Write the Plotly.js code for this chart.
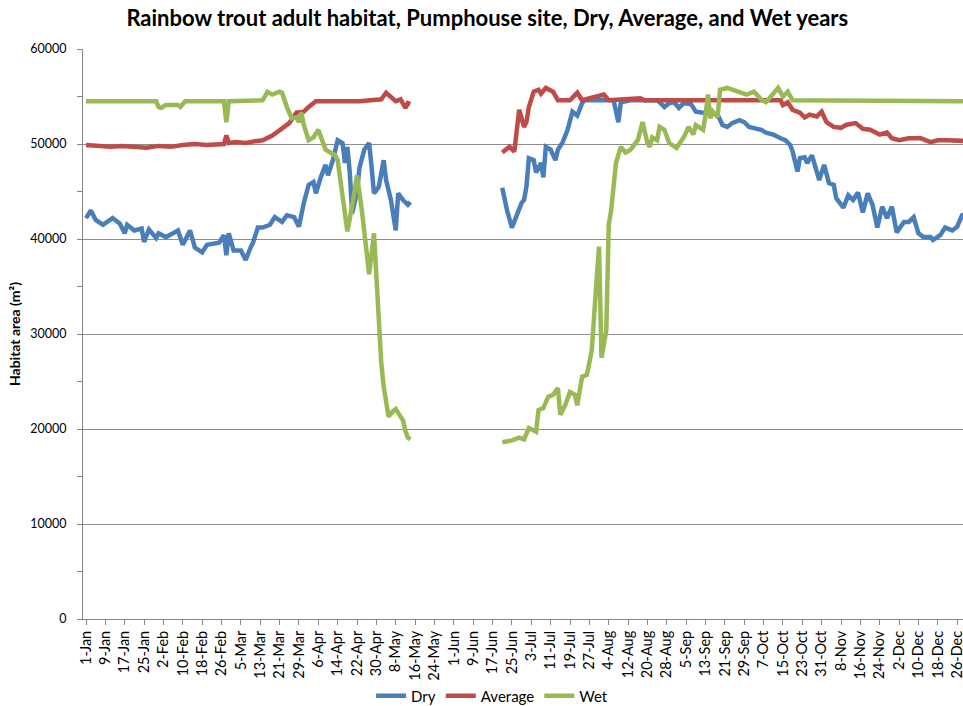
<!DOCTYPE html>
<html><head><meta charset="utf-8">
<script src="https://cdn.plot.ly/plotly-3.0.1.min.js"></script>
<style>html,body{margin:0;padding:0;background:#fff;}#chart{width:963px;height:706px;}</style>
</head><body><div id="chart"></div>
<script>
const tickLabels = ["1-Jan","9-Jan","17-Jan","25-Jan","2-Feb","10-Feb","18-Feb","26-Feb","5-Mar","13-Mar","21-Mar","29-Mar","6-Apr","14-Apr","22-Apr","30-Apr","8-May","16-May","24-May","1-Jun","9-Jun","17-Jun","25-Jun","3-Jul","11-Jul","19-Jul","27-Jul","4-Aug","12-Aug","20-Aug","28-Aug","5-Sep","13-Sep","21-Sep","29-Sep","7-Oct","15-Oct","23-Oct","31-Oct","8-Nov","16-Nov","24-Nov","2-Dec","10-Dec","18-Dec","26-Dec"];
const tickStepDays = 8;

const dryDays = [0,2,4,7,11,14,16,17,20,23,24,26,29,30,33,36,38,40,42,43,45,48,50,55,57,58,59,61,64,66,68,69,71,73,76,78,81,83,86,88,90,92,94,95,97,99,100,102,104,106,107,108,109,110,112,113,115,117,118,119,121,123,124,126,128,129,131,133,134,
 153,
 172,174,176,178,180,181,182,183,185,186,188,189,190,192,194,195,197,199,201,203,205,206,218,220,221,225,236,237,239,241,243,245,247,250,252,255,258,261,263,265,267,270,272,274,276,279,281,284,287,289,291,292,294,295,297,298,300,302,303,305,307,309,310,313,315,317,319,321,323,325,327,329,331,333,335,338,340,342,344,346,349,350,353,355,358,360,362,365];
const dryValues = [42200,43000,42000,41500,42200,41600,40600,41500,40900,41100,39700,41000,40100,40600,40200,40600,40900,39400,40600,40900,39100,38600,39400,39600,40400,38300,40600,38800,38800,37800,39100,39600,41200,41200,41500,42300,41800,42500,42300,41300,43800,45700,46000,44800,46500,47800,46700,48300,50400,50100,48000,49700,47000,42700,45000,47500,49400,50100,47600,44800,45500,48300,46200,44100,40900,44800,44100,43600,43900,
 null,
 45400,43000,41200,42500,43800,44100,45500,48500,48300,47000,48000,46500,49700,49400,48300,49400,50200,51500,53400,53000,54300,54600,54600,52300,54400,54600,54600,54400,53900,54300,54400,53800,54300,54200,53400,53300,53300,53100,52000,51800,52200,52500,52300,51800,51700,51500,51200,51000,50600,50400,49900,49200,47100,48500,48600,48000,48800,47000,46200,47800,45900,45700,44300,43300,44600,44100,44900,42800,44800,43600,41200,43400,42200,43400,40700,41800,41800,42300,40600,40200,40200,39900,40400,41200,40900,41300,42500,42800];

const avgDays = [0,5,10,15,20,25,30,35,40,45,50,55,57,58,59,62,66,70,73,77,81,84,87,90,92,95,113,119,122,124,126,128,130,132,133,134,
 153,
 172,175,177,179,181,182,183,185,187,188,190,193,195,200,203,205,214,216,229,231,287,288,290,292,295,297,299,302,304,306,309,312,314,318,321,324,328,331,333,336,340,345,349,352,356,361,365];
const avgValues = [49900,49800,49700,49800,49700,49600,49800,49700,49900,50000,49900,50000,50000,50900,50100,50200,50100,50300,50400,50900,51700,52200,53300,53400,53900,54500,54500,54600,54700,55400,54900,54500,54700,53800,54300,54200,
 null,
 49100,49700,49200,53600,51800,52300,53900,55500,55700,55300,55900,55500,54600,54600,55400,54600,55200,54600,54800,54600,54600,54100,54400,53600,53300,52800,53100,52900,53400,52300,51800,51700,52000,52200,51600,51500,51000,51200,50600,50400,50600,50600,50200,50400,50400,50300,50300];

const wetDays = [0,29,30,31,33,36,38,39,41,57,58,59,73,75,77,80,81,83,85,87,88,89,90,92,94,96,97,99,101,103,104,106,108,110,112,114,116,117,119,120,121,122,123,124,125,127,128,130,131,132,133,134,
 153,
 172,176,179,181,183,186,187,189,191,193,195,196,198,200,202,203,205,207,209,210,211,212,213,215,216,217,218,219,221,223,225,228,230,232,233,234,236,237,239,241,244,247,249,251,252,255,256,257,258,259,261,262,265,269,273,275,276,279,281,283,286,288,290,292,305,306,365];
const wetValues = [54500,54500,53900,53800,54100,54100,54100,53900,54500,54500,52300,54500,54600,55500,55200,55500,55400,53900,52700,52800,52300,53300,52000,50400,50700,51500,50700,49400,49100,48800,48300,44100,40800,43500,46700,43000,38000,36300,40600,36000,31000,27000,24500,22500,21300,21900,22100,21300,20900,19800,19100,18900,
 null,
 18600,18800,19100,18900,20100,19700,22000,22200,23400,23600,24300,21500,22500,23900,23600,22500,25500,25700,28300,32800,35700,39200,27500,30400,41500,43000,46000,48000,49700,49100,49400,50400,52300,50100,49700,50700,50400,51800,51500,50100,49600,50700,51800,51000,52000,51500,53000,55200,52700,53400,52800,55700,55900,55500,55200,55400,55500,54700,54400,55000,55900,55000,55500,54600,54600,54500,54500];

const seriesNames = ["Dry","Average","Wet"];
const seriesColors = ["#4A7EBB","#BE4B48","#98B954"];

const traces = [[dryDays,dryValues],[avgDays,avgValues],[wetDays,wetValues]].map((s,i)=>({
  type:'scatter', mode:'lines', name:seriesNames[i], x:s[0], y:s[1],
  line:{color:seriesColors[i], width:4.5}, connectgaps:false, hoverinfo:'skip'
}));

const layout = {
  width:963, height:706,
  margin:{l:83, r:0, t:49, b:87, autoexpand:false},
  paper_bgcolor:'#ffffff', plot_bgcolor:'#ffffff',
  font:{family:'Lato, sans-serif', size:14, color:'#000'},
  title:{text:'Rainbow trout adult habitat, Pumphouse site, Dry, Average, and Wet years',
    font:{family:'Lato, sans-serif', size:22, color:'#000', weight:'bold'},
    x:0.506, xref:'container', xanchor:'center', y:1-18/706, yref:'container', yanchor:'middle'},
  xaxis:{range:[-1.24,362.4], tickmode:'array',
    tickvals:tickLabels.map((_,i)=>i*tickStepDays), ticktext:tickLabels,
    tickangle:-90, ticks:'outside', ticklen:5, tickcolor:'#868686', ticklabeloverflow:'allow',
    showline:true, linecolor:'#868686', linewidth:1, showgrid:false, zeroline:false,
    tickfont:{size:14.5}, automargin:false},
  yaxis:{range:[0,60000], dtick:10000, tickformat:'d', showgrid:true, gridcolor:'#8c8c8c', gridwidth:1,
    showline:true, linecolor:'#868686', ticks:'outside', ticklen:5, tickcolor:'#868686',
    ticklabelstandoff:8,
    minor:{ticks:'outside', dtick:5000, ticklen:5, tickcolor:'#868686', showgrid:false},
    zeroline:false, tickfont:{size:12.5}, automargin:false,
    title:{text:'Habitat area (m²)', font:{size:14, weight:'bold'}, standoff:6}},
  legend:{orientation:'h', x:0.511, xref:'container', xanchor:'center', y:0.014, yref:'container', yanchor:'middle', font:{size:15}},
  showlegend:true
};
Plotly.newPlot('chart', traces, layout, {displayModeBar:false, staticPlot:true});
</script></body></html>
